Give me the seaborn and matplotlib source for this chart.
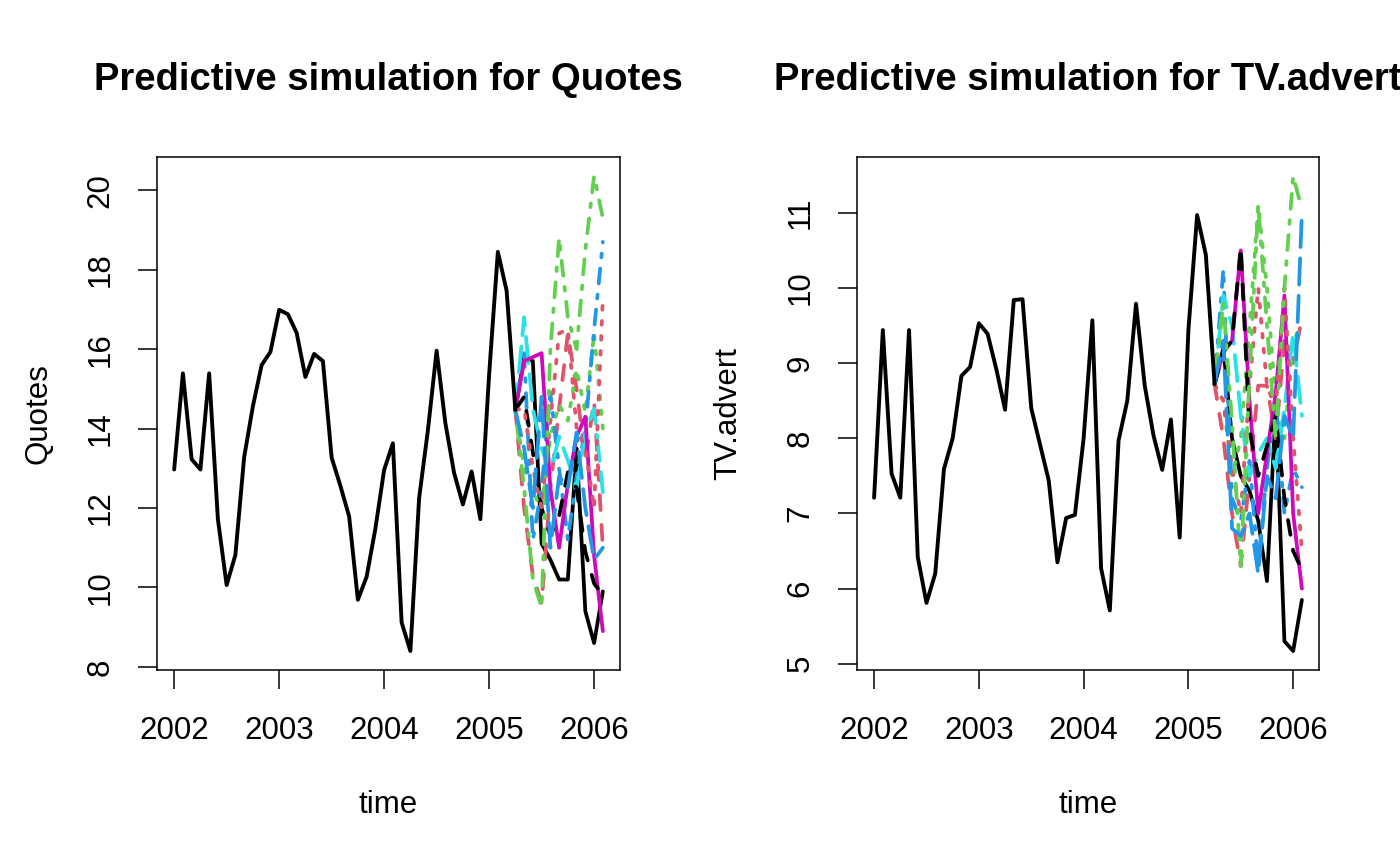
import numpy as np
import pandas as pd
import matplotlib
matplotlib.use("Agg")
import matplotlib.pyplot as plt
import seaborn as sns

# observed monthly series, Jan 2002 - Apr 2005
quotes = [12.97, 15.39, 13.23, 12.97, 15.39, 11.72, 10.06, 10.82, 13.28, 14.56,
          15.60, 15.93, 16.99, 16.88, 16.41, 15.30, 15.88, 15.70, 13.27, 12.56,
          11.79, 9.69, 10.27, 11.48, 12.96, 13.63, 9.12, 8.40, 12.25, 13.95,
          15.96, 14.14, 12.88, 12.09, 12.92, 11.72, 15.36, 18.45, 17.47, 14.47]
tv_advert = [7.21, 9.44, 7.53, 7.21, 9.44, 6.42, 5.81, 6.20, 7.59, 8.00,
             8.83, 8.95, 9.53, 9.39, 8.92, 8.38, 9.84, 9.85, 8.40, 7.92,
             7.44, 6.35, 6.94, 6.98, 8.00, 9.57, 6.27, 5.71, 7.97, 8.50,
             9.79, 8.70, 8.04, 7.58, 8.25, 6.68, 9.44, 10.97, 10.44, 8.72]

# simulated paths, Apr 2005 (last obs) to Feb 2006
quotes_sims = [
    [14.47, 15.8, 15.7, 11.1, 10.7, 10.2, 10.2, 13.5, 9.4, 8.6, 9.9],
    [14.47, 12.0, 10.3, 9.6, 12.5, 14.5, 16.4, 15.0, 13.2, 14.7, 11.0],
    [14.47, 13.0, 12.4, 12.0, 13.8, 14.6, 14.2, 15.5, 14.4, 16.4, 14.0],
    [14.47, 15.9, 11.2, 12.5, 14.9, 13.0, 11.2, 12.8, 14.0, 16.5, 18.7],
    [14.47, 16.8, 14.5, 13.5, 12.9, 13.8, 13.2, 12.5, 13.9, 14.5, 12.4],
    [14.47, 15.7, 15.8, 15.9, 12.5, 11.0, 12.6, 13.8, 14.3, 10.8, 8.9],
    [14.47, 14.8, 13.4, 12.0, 11.3, 11.8, 12.9, 12.5, 10.9, 10.1, 9.8],
    [14.47, 14.5, 13.0, 12.0, 14.2, 16.4, 16.5, 14.0, 13.5, 12.0, 17.3],
    [14.47, 12.5, 10.2, 9.5, 16.0, 18.8, 16.8, 16.0, 18.5, 20.36, 19.3],
    [14.47, 13.5, 12.0, 14.8, 11.0, 12.8, 12.5, 13.9, 12.0, 10.7, 11.0],
]
tv_sims = [
    [8.72, 9.2, 8.0, 7.5, 7.3, 6.9, 6.1, 8.4, 5.3, 5.17, 5.85],
    [8.72, 8.0, 7.0, 6.3, 7.5, 8.7, 8.7, 8.0, 9.3, 9.0, 9.6],
    [8.72, 8.5, 7.5, 8.0, 9.5, 11.1, 10.0, 8.5, 8.0, 9.3, 9.5],
    [8.72, 10.25, 7.2, 6.9, 7.7, 6.3, 7.6, 8.5, 7.0, 7.6, 7.35],
    [8.72, 9.9, 9.5, 8.3, 7.5, 7.8, 8.0, 7.6, 8.4, 9.4, 8.3],
    [8.72, 9.15, 9.3, 10.5, 8.5, 7.0, 7.8, 8.6, 9.9, 7.0, 6.0],
    [8.72, 9.15, 9.3, 10.55, 8.1, 7.5, 7.9, 8.3, 7.2, 6.5, 6.25],
    [8.72, 8.5, 7.6, 7.0, 8.7, 10.0, 8.7, 8.4, 10.0, 8.0, 6.5],
    [8.72, 9.8, 8.2, 6.3, 8.8, 11.1, 9.5, 8.0, 10.0, 11.49, 11.05],
    [8.72, 9.3, 6.8, 6.7, 7.0, 6.2, 7.5, 7.2, 8.3, 8.0, 11.0],
]

obs_time = 2002 + np.arange(40) / 12
sim_time = 2002 + np.arange(39, 50) / 12

r_cols = ["black", "#DF536B", "#61D04F", "#2297E6", "#28E2E5", "#CD0BBC"]
r_ltys = ["", (4, 4), (1, 3), (1, 3, 4, 3), (7, 3)]

sns.set_theme(style="white")
plt.rcParams["font.family"] = ["Liberation Sans", "DejaVu Sans"]
plt.rcParams["axes.edgecolor"] = "black"
plt.rcParams["axes.linewidth"] = 1.1
plt.rcParams["text.color"] = "black"
plt.rcParams["axes.labelcolor"] = "black"

fig = plt.figure(figsize=(14, 8.66), dpi=100)
W, H = 1400, 866


def panel(box, obs, sims, name, yticks, ylab_x):
    ax = fig.add_axes([box[0] / W, 1 - box[3] / H, (box[2] - box[0]) / W, (box[3] - box[1]) / H])
    rows = []
    for i, s in enumerate(sims):
        for t, v in zip(sim_time, s):
            rows.append({"time": t, "value": v, "sim": f"s{i + 1}"})
    df = pd.DataFrame(rows)
    keys = [f"s{i + 1}" for i in range(len(sims))]
    pal = {k: r_cols[i % 6] for i, k in enumerate(keys)}
    dsh = {k: r_ltys[i % 5] for i, k in enumerate(keys)}
    sns.lineplot(data=df, x="time", y="value", hue="sim", style="sim", palette=pal,
                 dashes=dsh, estimator=None, sort=False, legend=False, lw=2.7,
                 dash_capstyle="round", solid_capstyle="round", ax=ax)
    obs_df = pd.DataFrame({"time": obs_time, "value": obs})
    sns.lineplot(data=obs_df, x="time", y="value", color="black", lw=2.8,
                 estimator=None, sort=False, legend=False, ax=ax)
    ax.margins(x=0.04, y=0.04)
    ax.set_xticks([2002, 2003, 2004, 2005, 2006])
    ax.set_yticks(yticks)
    ax.tick_params(axis="both", direction="out", length=14, width=1.1, labelsize=22.5,
                   bottom=True, left=True, colors="black")
    ax.tick_params(axis="x", pad=19)
    ax.tick_params(axis="y", pad=16)
    for lab in ax.get_yticklabels():
        lab.set_rotation(90)
        lab.set_va("center")
    ax.set_xlabel("time", fontsize=22.5, va="center")
    ax.set_ylabel(name, fontsize=22.5, va="center")
    ax.xaxis.set_label_coords(0.5, -0.263)
    ax.yaxis.set_label_coords(ylab_x, 0.5)
    ax.set_title(f"Predictive simulation for {name}", fontsize=27.5, fontweight="bold",
                 y=1.15, va="center", pad=0)
    for sp in ax.spines.values():
        sp.set_visible(True)
    return ax


panel((157, 157, 620, 670), quotes, quotes_sims, "Quotes", [8, 10, 12, 14, 16, 18, 20], -0.257)
panel((857, 157, 1319, 670), tv_advert, tv_sims, "TV.advert", [5, 6, 7, 8, 9, 10, 11], -0.279)

fig.savefig("out.png", dpi=100)
